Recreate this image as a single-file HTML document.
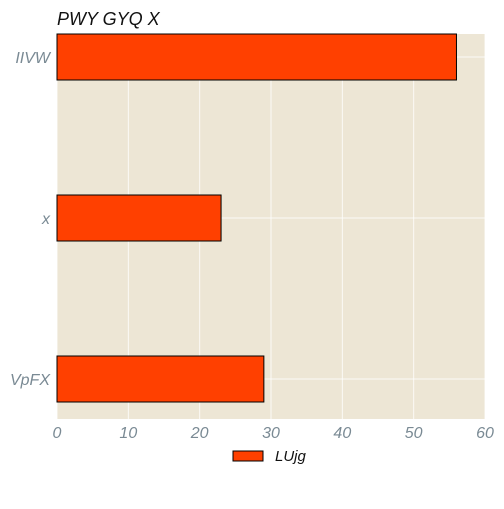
<!DOCTYPE html>
<html><head><meta charset="utf-8"><style>
body{margin:0;background:#fff;}
svg text{font-family:"Liberation Sans",sans-serif;font-style:italic;}
</style></head><body>
<svg width="504" height="504">
<text x="57" y="25" font-size="18" fill="#111">PWY GYQ X</text>
<rect x="57" y="34" width="428" height="385" fill="#ede6d5"/>
<g id="grid"></g><g id="bars"></g><g id="ticks"></g>
<rect x="233" y="451" width="30" height="10" fill="#ff4000" stroke="#000" stroke-width="1"/>
<text x="275" y="461" font-size="15" fill="#111">LUjg</text>
</svg>
<script>
const categories=["IIVW","x","VpFX"];
const values=[56,23,29];
const xTicks=[0,10,20,30,40,50,60];
const NS="http://www.w3.org/2000/svg";
const xS=v=>57+v*(428/60);
const yS=i=>57+i*161;
function mk(t,a,p){const e=document.createElementNS(NS,t);for(const k in a)e.setAttribute(k,a[k]);p.appendChild(e);return e;}
const g=document.getElementById('grid'),b=document.getElementById('bars'),tk=document.getElementById('ticks');
xTicks.forEach(v=>{
const l=mk('line',{x1:xS(v),x2:xS(v),y1:34,y2:419,stroke:'#fff','stroke-width':1,opacity:0.8},g);


const t=mk('text',{x:xS(v),y:438,'font-size':16,fill:'#7a8a94','text-anchor':'middle'},tk);
t.textContent=v;


});
categories.forEach((c,i)=>{
const l=mk('line',{x1:57,x2:485,y1:yS(i),y2:yS(i),stroke:'#fff','stroke-width':1,opacity:0.8},g);


const r=mk('rect',{x:57,y:yS(i)-23,width:xS(values[i])-57,height:46,fill:'#ff4000',stroke:'#000','stroke-width':1},b);


const t=mk('text',{x:50,y:yS(i)+6,'font-size':16,fill:'#7a8a94','text-anchor':'end'},tk);
t.textContent=c;


});
</script>
</body></html>
